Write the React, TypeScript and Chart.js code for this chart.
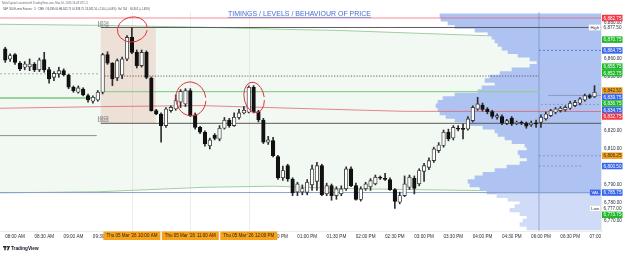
import React, { useEffect, useRef } from "react";
import { Chart, registerables } from "chart.js";

Chart.register(...registerables);

// ---------- DATA ----------
// 5-minute bars, bar index 0 = 07:45 AM (session gap 17:00-18:00 removed, index 111 = 06:00 PM)
const FIRST_BAR_INDEX = 1;

const opens = [
  6865.6, 6860.0, 6862.4, 6857.6, 6855.4, 6855.7, 6857.2, 6853.9, 6859.6, 6854.1,
  6849.8, 6851.7, 6853.5, 6851.1, 6844.3, 6841.5, 6843.3, 6839.6, 6836.5, 6837.2,
  6841.5, 6862.4, 6857.6, 6849.5, 6851.0, 6860.0, 6872.0, 6863.7, 6856.3, 6863.7,
  6849.4, 6831.3, 6829.4, 6823.0, 6831.3, 6832.2, 6836.0, 6835.0, 6842.4, 6828.9,
  6822.0, 6819.3, 6811.8, 6817.5, 6815.5, 6821.5, 6826.0, 6823.0, 6827.5, 6830.0,
  6830.4, 6844.3, 6830.7, 6826.1, 6813.7, 6814.6, 6805.7, 6794.0, 6800.7, 6793.3,
  6786.0, 6786.0, 6785.9, 6790.0, 6792.0, 6800.7, 6785.0, 6789.6, 6784.1, 6785.0,
  6787.8, 6798.9, 6789.6, 6781.9, 6787.8, 6789.0, 6790.6, 6794.3, 6793.7, 6793.0,
  6787.4, 6780.4, 6784.1, 6788.7, 6793.7, 6790.6, 6797.5, 6799.8, 6803.5, 6809.1,
  6811.9, 6819.3, 6816.1, 6821.5, 6821.5, 6821.1, 6825.7, 6832.2, 6834.4, 6832.2,
  6830.7, 6827.6, 6828.0, 6824.3, 6827.2, 6824.1, 6824.8, 6824.4, 6823.5, 6824.4,
  6824.8, 6826.7, 6828.5, 6830.4, 6831.3, 6831.7, 6832.6, 6834.1, 6835.4, 6837.2,
  6839.6, 6839.0,
];
const highs = [
  6866.5, 6862.8, 6863.0, 6858.5, 6858.5, 6860.0, 6858.0, 6860.5, 6863.7, 6855.4,
  6853.0, 6855.4, 6854.5, 6851.5, 6845.0, 6845.0, 6844.0, 6840.5, 6839.5, 6842.5,
  6863.1, 6864.0, 6858.0, 6860.0, 6861.0, 6873.0, 6877.5, 6865.0, 6865.0, 6864.5,
  6850.0, 6832.0, 6830.0, 6833.0, 6834.0, 6840.0, 6843.0, 6843.5, 6843.5, 6830.0,
  6822.5, 6820.0, 6816.0, 6818.5, 6823.0, 6827.5, 6827.0, 6830.0, 6832.0, 6833.5,
  6845.0, 6845.2, 6831.5, 6827.0, 6817.0, 6816.5, 6806.5, 6800.5, 6801.5, 6794.0,
  6791.5, 6790.0, 6793.0, 6801.0, 6802.5, 6801.5, 6791.0, 6790.5, 6789.0, 6789.5,
  6800.0, 6800.0, 6791.0, 6789.0, 6791.5, 6793.5, 6795.5, 6795.0, 6796.5, 6794.0,
  6788.0, 6786.0, 6795.0, 6795.5, 6795.0, 6799.0, 6802.0, 6805.0, 6811.0, 6813.5,
  6820.5, 6821.0, 6823.0, 6823.0, 6823.9, 6828.0, 6834.0, 6838.7, 6835.5, 6833.0,
  6831.5, 6829.5, 6829.0, 6826.5, 6828.0, 6825.5, 6825.5, 6825.0, 6825.5, 6826.0,
  6829.0, 6830.5, 6832.0, 6833.0, 6833.5, 6834.0, 6836.5, 6837.0, 6838.5, 6840.5,
  6840.5, 6845.2,
];
const lows = [
  6858.1, 6858.7, 6857.0, 6853.5, 6854.0, 6853.5, 6853.0, 6853.0, 6852.6, 6846.5,
  6848.0, 6849.8, 6850.5, 6843.5, 6841.5, 6841.0, 6839.5, 6836.0, 6835.5, 6836.5,
  6840.6, 6857.0, 6845.2, 6848.0, 6849.0, 6859.0, 6863.0, 6855.0, 6855.5, 6849.0,
  6831.0, 6829.0, 6813.7, 6822.0, 6830.5, 6831.5, 6833.0, 6833.5, 6828.0, 6821.0,
  6818.5, 6811.5, 6810.0, 6815.0, 6814.5, 6821.0, 6822.0, 6822.5, 6826.5, 6829.5,
  6830.0, 6830.0, 6825.0, 6813.0, 6812.5, 6805.5, 6793.0, 6792.5, 6792.0, 6784.0,
  6784.0, 6784.5, 6784.5, 6787.0, 6787.0, 6784.0, 6784.0, 6781.5, 6782.0, 6784.0,
  6787.0, 6789.0, 6781.5, 6781.0, 6787.0, 6787.0, 6790.0, 6793.0, 6792.5, 6787.0,
  6777.0, 6779.5, 6783.5, 6787.5, 6785.0, 6789.5, 6792.0, 6798.5, 6802.5, 6808.0,
  6811.0, 6814.5, 6815.0, 6820.0, 6815.6, 6820.5, 6825.0, 6831.5, 6831.0, 6829.5,
  6827.0, 6826.5, 6823.5, 6823.5, 6823.0, 6823.5, 6823.5, 6821.5, 6822.5, 6822.0,
  6822.0, 6826.0, 6828.0, 6829.5, 6830.5, 6831.0, 6832.0, 6833.5, 6834.5, 6836.5,
  6838.0, 6838.5,
];
const closes = [
  6859.4, 6861.9, 6858.1, 6854.4, 6857.2, 6857.2, 6853.9, 6859.4, 6853.9, 6848.9,
  6852.0, 6853.5, 6851.3, 6844.3, 6842.4, 6843.9, 6840.0, 6837.2, 6838.7, 6841.5,
  6862.4, 6857.6, 6848.9, 6859.1, 6860.0, 6872.0, 6863.7, 6856.3, 6863.7, 6849.8,
  6831.3, 6829.4, 6823.0, 6832.2, 6833.1, 6836.9, 6842.0, 6842.4, 6828.5, 6822.0,
  6819.3, 6812.8, 6815.0, 6815.9, 6821.5, 6826.0, 6823.0, 6827.6, 6830.0, 6831.5,
  6844.3, 6830.4, 6826.1, 6813.7, 6815.0, 6806.3, 6793.9, 6798.0, 6793.3, 6785.6,
  6790.6, 6788.0, 6791.5, 6798.9, 6800.7, 6784.6, 6789.6, 6784.1, 6787.8, 6787.8,
  6798.9, 6789.6, 6781.9, 6787.8, 6790.6, 6792.4, 6794.3, 6793.7, 6793.0, 6787.4,
  6780.9, 6784.1, 6790.6, 6794.3, 6788.1, 6798.0, 6800.7, 6803.5, 6810.0, 6812.2,
  6819.3, 6815.6, 6822.0, 6821.0, 6820.9, 6826.7, 6833.1, 6835.0, 6831.9, 6830.7,
  6828.1, 6828.5, 6824.3, 6825.7, 6823.9, 6824.8, 6824.3, 6822.6, 6824.3, 6823.9,
  6827.6, 6829.4, 6831.3, 6832.2, 6832.6, 6833.1, 6835.4, 6835.9, 6837.8, 6839.6,
  6838.7, 6841.5,
];

// visible ranges
const xMin = -0.08;
const xMax = 123.33;
const priceMin = 6764.4;
const priceMax = 6886.1;

// time axis
const timeTickIndex = [3, 9, 15, 21, 27, 39, 51, 57, 63, 69, 75, 81, 87, 93, 99, 105, 111, 117, 123];
const timeTickLabels = [
  "08:00 AM", "08:30 AM", "09:00 AM", "09:30 AM", "10:00 AM", "11:00 AM", "12:00 PM", "12:30 PM",
  "01:00 PM", "01:30 PM", "02:00 PM", "02:30 PM", "03:00 PM", "03:30 PM", "04:00 PM", "04:30 PM",
  "06:00 PM", "06:30 PM", "07:00 PM",
];
const markerIndex = [27, 39, 51];
const markerDate = ["Thu 05 Mar '26", "Thu 05 Mar '26", "Thu 05 Mar '26"];
const markerTime = ["10:00 AM", "11:00 AM", "12:00 PM"];
const sessionBreakIndex = 110.6;

// volume profile (row price, volume)
const profilePrices = [
  6884, 6882, 6880, 6878, 6876, 6874, 6872, 6870, 6868, 6866,
  6864, 6862, 6860, 6858, 6856, 6854, 6852, 6850, 6848, 6846,
  6844, 6842, 6840, 6838, 6836, 6834, 6832, 6830, 6828, 6826,
  6824, 6822, 6820, 6818, 6816, 6814, 6812, 6810, 6808, 6806,
  6804, 6802, 6800, 6798, 6796, 6794, 6792, 6790, 6788, 6786,
  6784, 6782, 6780, 6778, 6776, 6774, 6772, 6770, 6768, 6766,
];
const profileVolumes = [
  161, 160, 153, 146, 126, 113, 109, 106, 103, 99,
  93, 83, 71, 64, 71, 89, 101, 111, 116, 106,
  119, 123, 146, 158, 163, 165, 163, 161, 155, 146,
  134, 118, 106, 103, 96, 89, 76, 74, 83, 81,
  74, 81, 94, 106, 118, 126, 133, 131, 121, 114,
  104, 93, 81, 86, 91, 81, 74, 78, 81, 74,
];
const valueAreaLow = 6785.75;

// channel (green trend lines)
const channelIndex = [-0.08, 20, 42, 56, 70, 100, 123.33];
const channelUpper = [6879.3, 6878.7, 6877.6, 6876.6, 6875.8, 6872.9, 6871.3];
const channelLower = [6785.6, 6786.2, 6788.7, 6789.3, 6788.0, 6786.8, 6786.0];

// red average line
const avgLineIndex = [-0.08, 20.5, 41, 61.5, 83, 123.33];
const avgLinePrice = [6832.6, 6833.5, 6834.1, 6832.5, 6830.9, 6830.8];

// horizontal levels
const levelKeys = ["vah", "high", "prevMid", "orMid", "greenPrev", "green", "orLow", "prevLow", "val", "onHigh", "onA", "onB", "onC", "onD"];
const levelFrom = [-0.08, 20.6, -0.08, 20.8, -0.08, 20.6, 20.6, -0.08, -0.08, 110.6, 112.5, 111.0, 110.6, 110.6];
const levelTo = [123.33, 123.33, 20.4, 110.6, 20.4, 110.6, 123.33, 19.8, 123.33, 123.33, 123.33, 123.33, 123.33, 119.5];
const levelPrice = [6882.75, 6877.5, 6851.75, 6850.5, 6838.3, 6841.8, 6824.25, 6817.4, 6785.75, 6864.75, 6839.75, 6834.75, 6806.25, 6800.5];

// opening range box
const rangeBoxFrom = 20.6;
const rangeBoxTo = 31.9;
const rangeBoxHigh = 6877.5;
const rangeBoxLow = 6824.25;

// hand-drawn circles (bar index, price)
const circleIndex = [27.1, 39.1, 52.1];
const circlePrice = [6876.4, 6837.8, 6838.6];

// price scale labels
const priceLabelValues = [6882.75, 6877.5, 6870.75, 6864.75, 6855.75, 6852.75, 6842.5, 6839.75, 6836.75, 6834.75, 6832.75, 6806.25, 6800.5, 6785.75, 6777.0, 6773.75];
const priceLabelKinds = ["red", "high", "green", "blue", "green", "green", "orange", "blue", "green", "blue", "red", "orange", "blue", "val", "low", "green"];

const titleText = "TIMINGS / LEVELS / BEHAVIOUR OF PRICE";
const headerLine1 = "NeilsCapital created with TradingView.com, Mar 06, 2026 16:48 UTC-5";
const headerLine2 = "S&P 500 E-mini Futures · 5 · CME  O6,839.00 H6,842.75 L6,838.75 C6,841.50 +2.50 (+0.04%)  Vol 744  · 46,801 (+1.48%)";

// ---------- STYLES ----------
const FONT = '"Liberation Sans", Arial, sans-serif';
const levelStyles: Record<string, { color: string; width: number; dash: number[] }> = {
  vah: { color: "rgba(236,80,95,0.65)", width: 1, dash: [] },
  high: { color: "#5c5c5c", width: 1, dash: [] },
  prevMid: { color: "#9a9a9a", width: 0.8, dash: [2, 2] },
  orMid: { color: "#3a3a3a", width: 0.8, dash: [1.2, 1.6] },
  greenPrev: { color: "#3fae46", width: 1, dash: [] },
  green: { color: "#8fd18f", width: 1.3, dash: [] },
  orLow: { color: "#575757", width: 1, dash: [] },
  prevLow: { color: "#8c8c8c", width: 1, dash: [] },
  val: { color: "#86a2cc", width: 1, dash: [] },
  onHigh: { color: "#3d6bf0", width: 0.8, dash: [2, 2] },
  onA: { color: "#6d7e98", width: 0.6, dash: [] },
  onB: { color: "#6d7e98", width: 0.6, dash: [2, 2] },
  onC: { color: "#6d7e98", width: 0.6, dash: [2, 2] },
  onD: { color: "#6d7e98", width: 0.6, dash: [2, 2] },
};
const labelBg: Record<string, string> = {
  red: "#f23645", green: "#22b82c", blue: "#3867ec", orange: "#f5a01f", high: "#ffffff", val: "#3867ec", low: "#ffffff",
};
const labelFg: Record<string, string> = {
  red: "#ffffff", green: "#ffffff", blue: "#ffffff", orange: "#2a2a2a", high: "#2a2e39", val: "#ffffff", low: "#2a2e39",
};
const labelTag: Record<string, string> = { high: "High", val: "VAL", low: "Low" };
const circleRadii = [[15, 12.5], [15, 17], [10, 15.5]];

const fmt = (v: number) =>
  Number(v).toLocaleString("en-US", { minimumFractionDigits: 2, maximumFractionDigits: 2 });

function buildDatasets() {
  const ds: any[] = [];
  ds.push({
    type: "line",
    data: channelIndex.map((x, k) => ({ x, y: channelUpper[k] })),
    borderColor: "#9fcf9f",
    borderWidth: 1,
    pointRadius: 0,
    fill: "+1",
    backgroundColor: "rgba(76,175,80,0.07)",
    order: 20,
  });
  ds.push({
    type: "line",
    data: channelIndex.map((x, k) => ({ x, y: channelLower[k] })),
    borderColor: "#9fcf9f",
    borderWidth: 1,
    pointRadius: 0,
    fill: false,
    order: 19,
  });
  const profileIndex = ds.length;
  ds.push({
    type: "bar",
    indexAxis: "y",
    xAxisID: "xp",
    yAxisID: "y",
    data: profilePrices.map((p, k) => ({ x: profileVolumes[k], y: p })),
    backgroundColor: (c: any) => (profilePrices[c.dataIndex] >= valueAreaLow ? "#afc3f2" : "#cfdbf7"),
    borderWidth: 0,
    barThickness: 3.75,
    grouped: false,
    order: 15,
  });
  levelKeys.forEach((key, k) => {
    const st = levelStyles[key];
    ds.push({
      type: "line",
      data: [
        { x: levelFrom[k], y: levelPrice[k] },
        { x: levelTo[k], y: levelPrice[k] },
      ],
      borderColor: st.color,
      borderWidth: st.width,
      borderDash: st.dash,
      pointRadius: 0,
      fill: false,
      order: 10,
    });
  });
  ds.push({
    type: "line",
    data: avgLineIndex.map((x, k) => ({ x, y: avgLinePrice[k] })),
    borderColor: "rgba(226,92,100,0.75)",
    borderWidth: 1,
    pointRadius: 0,
    fill: false,
    order: 10,
  });
  ds.push({
    type: "bar",
    data: opens.map((_, k) => ({ x: FIRST_BAR_INDEX + k, y: [lows[k], highs[k]] })),
    backgroundColor: "#2e2e2e",
    borderWidth: 0,
    barThickness: 1,
    grouped: false,
    order: 2,
  });
  ds.push({
    type: "bar",
    data: opens.map((o, k) => ({ x: FIRST_BAR_INDEX + k, y: [o, closes[k]] })),
    backgroundColor: (c: any) => (closes[c.dataIndex] >= opens[c.dataIndex] ? "#ffffff" : "#111111"),
    borderColor: (c: any) => (closes[c.dataIndex] >= opens[c.dataIndex] ? "#3a3a3a" : "#111111"),
    borderWidth: 0.9,
    borderSkipped: false,
    barThickness: 3.6,
    minBarLength: 1,
    grouped: false,
    order: 1,
  });
  return { ds, profileIndex };
}

function makeOverlay(profileIndex: number) {
  return {
    id: "overlay",
    beforeDatasetsDraw(chart: any) {
      const { ctx, chartArea: ca, scales } = chart;
      const xs = scales.x, ys = scales.y;
      ctx.save();
      ctx.strokeStyle = "rgba(0,0,0,0.07)";
      ctx.lineWidth = 1;
      markerIndex.forEach((i) => {
        const px = Math.round(xs.getPixelForValue(i)) + 0.5;
        ctx.beginPath();
        ctx.moveTo(px, ca.top);
        ctx.lineTo(px, ca.bottom);
        ctx.stroke();
      });
      const l = xs.getPixelForValue(rangeBoxFrom);
      const r = xs.getPixelForValue(rangeBoxTo);
      const t = ys.getPixelForValue(rangeBoxHigh);
      const b = ys.getPixelForValue(rangeBoxLow);
      ctx.fillStyle = "rgba(236,150,140,0.26)";
      ctx.fillRect(l, t, r - l, b - t);
      ctx.restore();
    },
    afterDatasetDraw(chart: any, args: any) {
      if (args.index !== profileIndex) return;
      const { ctx, chartArea: ca, scales } = chart;
      const px = scales.x.getPixelForValue(sessionBreakIndex);
      ctx.save();
      ctx.strokeStyle = "rgba(80,110,170,0.45)";
      ctx.lineWidth = 1;
      ctx.beginPath();
      ctx.moveTo(px, ca.top);
      ctx.lineTo(px, ca.bottom);
      ctx.stroke();
      ctx.restore();
    },
    afterDatasetsDraw(chart: any) {
      const { ctx, scales } = chart;
      const xs = scales.x, ys = scales.y;
      ctx.save();
      ctx.strokeStyle = "#e2323d";
      ctx.lineWidth = 1;
      circleIndex.forEach((ci, k) => {
        const cx = xs.getPixelForValue(ci);
        const cy = ys.getPixelForValue(circlePrice[k]);
        const [rx, ry] = circleRadii[k];
        ctx.beginPath();
        ctx.ellipse(cx, cy, rx, ry, -0.2, 0.3, Math.PI * 2 + 0.1);
        ctx.stroke();
      });
      // range box tiny labels
      ctx.fillStyle = "#444";
      ctx.font = `2.8px ${FONT}`;
      ctx.textBaseline = "middle";
      ctx.textAlign = "left";
      const l = xs.getPixelForValue(rangeBoxFrom);
      ctx.fillText(fmt(rangeBoxHigh), l - 3, ys.getPixelForValue(rangeBoxHigh) - 4);
      ctx.fillText(fmt(rangeBoxHigh), l - 3, ys.getPixelForValue(rangeBoxHigh) - 1);
      ctx.fillText(fmt(rangeBoxLow), l - 3, ys.getPixelForValue(rangeBoxLow) - 5);
      ctx.fillText(fmt(rangeBoxLow), l - 3, ys.getPixelForValue(rangeBoxLow) - 2);
      ctx.restore();
    },
    afterDraw(chart: any) {
      const { ctx, chartArea: ca, scales, width } = chart;
      const xs = scales.x, ys = scales.y;
      ctx.save();
      // cover time label overflow under price scale
      ctx.fillStyle = "#ffffff";
      ctx.fillRect(ca.right + 0.5, ca.bottom + 1, width - ca.right, 22);
      // orange time markers
      ctx.font = `4.5px ${FONT}`;
      ctx.textBaseline = "middle";
      markerIndex.forEach((i, k) => {
        const cx = xs.getPixelForValue(i);
        const w = 57;
        ctx.fillStyle = "#f7a21d";
        ctx.fillRect(cx - w / 2, ca.bottom + 0.5, w, 8.5);
        ctx.fillStyle = "#2b2410";
        ctx.textAlign = "left";
        ctx.fillText(markerDate[k], cx - w / 2 + 3, ca.bottom + 5);
        ctx.textAlign = "right";
        ctx.fillText(markerTime[k], cx + w / 2 - 3, ca.bottom + 5);
      });
      // price labels with stacking
      const items = priceLabelValues
        .map((v, k) => ({ v, kind: priceLabelKinds[k] }))
        .sort((a, b) => b.v - a.v);
      const H = 6.5;
      let prev = -Infinity;
      ctx.font = `4.6px ${FONT}`;
      items.forEach((it) => {
        let yy = ys.getPixelForValue(it.v);
        if (yy < prev + H) yy = prev + H;
        prev = yy;
        const bx = ca.right + 1;
        ctx.fillStyle = labelBg[it.kind];
        ctx.fillRect(bx, yy - H / 2, 20.5, H);
        ctx.fillStyle = labelFg[it.kind];
        ctx.textAlign = "left";
        ctx.fillText(fmt(it.v), bx + 1.6, yy + 0.3);
        const tag = labelTag[it.kind];
        if (tag) {
          ctx.font = `4.2px ${FONT}`;
          const tw = ctx.measureText(tag).width + 3;
          ctx.fillStyle = it.kind === "val" ? labelBg.val : "#ffffff";
          ctx.fillRect(ca.right - tw - 0.5, yy - H / 2 + 0.3, tw, H - 0.6);
          if (it.kind !== "val") {
            ctx.strokeStyle = "#d0d3da";
            ctx.lineWidth = 0.5;
            ctx.strokeRect(ca.right - tw - 0.5, yy - H / 2 + 0.3, tw, H - 0.6);
          }
          ctx.fillStyle = it.kind === "val" ? "#ffffff" : "#2a2e39";
          ctx.textAlign = "center";
          ctx.fillText(tag, ca.right - tw / 2 - 0.5, yy + 0.3);
          ctx.font = `4.6px ${FONT}`;
        }
      });
      // title
      ctx.fillStyle = "#4270d6";
      ctx.font = `7px ${FONT}`;
      ctx.textAlign = "left";
      ctx.textBaseline = "alphabetic";
      ctx.fillText(titleText, 228, 16.3, 146);
      const tw = Math.min(146, ctx.measureText(titleText).width);
      ctx.strokeStyle = "#4270d6";
      ctx.lineWidth = 0.6;
      ctx.beginPath();
      ctx.moveTo(228, 17.4);
      ctx.lineTo(228 + tw, 17.4);
      ctx.stroke();
      // header
      ctx.fillStyle = "#6a6d78";
      ctx.font = `3px ${FONT}`;
      ctx.textBaseline = "middle";
      ctx.fillText(headerLine1, 2, 3.2, 86);
      ctx.fillStyle = "#4a4d58";
      ctx.fillText(headerLine2, 3, 9, 147);
      // TradingView logo
      const ly = 248.3;
      ctx.fillStyle = "#131722";
      ctx.fillRect(3, ly - 2.2, 3.6, 1.3);
      ctx.fillRect(4.4, ly - 2.2, 1.3, 4.2);
      ctx.beginPath();
      ctx.arc(7.6, ly - 1.5, 0.7, 0, Math.PI * 2);
      ctx.fill();
      ctx.beginPath();
      ctx.moveTo(8.6, ly - 2.2);
      ctx.lineTo(10, ly - 2.2);
      ctx.lineTo(8.3, ly + 2);
      ctx.lineTo(6.9, ly + 2);
      ctx.closePath();
      ctx.fill();
      ctx.font = `bold 4.7px ${FONT}`;
      ctx.textAlign = "left";
      ctx.fillText("TradingView", 11, ly + 0.2);
      ctx.restore();
    },
  };
}

export default function App() {
  const ref = useRef<HTMLCanvasElement>(null);
  useEffect(() => {
    if (!ref.current) return;
    const { ds, profileIndex } = buildDatasets();
    const chart = new Chart(ref.current, {
      type: "bar",
      data: { datasets: ds },
      options: {
        responsive: false,
        animation: false,
        events: [],
        layout: { padding: { top: 12, left: 0, right: 0, bottom: 0 } },
        plugins: {
          legend: { display: false },
          tooltip: { enabled: false },
          title: { display: false },
        },
        scales: {
          x: {
            type: "linear",
            position: "bottom",
            min: xMin,
            max: xMax,
            offset: false,
            grid: { display: false, drawTicks: false, offset: false },
            border: { display: true, color: "rgba(0,0,0,0.08)" },
            afterBuildTicks: (axis: any) => {
              axis.ticks = timeTickIndex.map((v) => ({ value: v }));
            },
            afterFit: (axis: any) => {
              axis.height = 24;
            },
            ticks: {
              autoSkip: false,
              maxRotation: 0,
              padding: 2.5,
              color: "#2a2e39",
              font: { size: 4.6, family: FONT },
              callback: (v: any) => {
                const k = timeTickIndex.indexOf(Number(v));
                return k >= 0 ? timeTickLabels[k] : "";
              },
            },
          },
          xp: {
            type: "linear",
            display: false,
            position: "bottom",
            min: 0,
            max: 601,
            reverse: true,
            offset: false,
            grid: { offset: false },
          },
          y: {
            type: "linear",
            position: "right",
            min: priceMin,
            max: priceMax,
            offset: false,
            beginAtZero: false,
            grid: { display: false, drawTicks: false, offset: false },
            border: { display: true, color: "rgba(0,0,0,0.08)" },
            afterFit: (axis: any) => {
              axis.width = 24;
            },
            ticks: {
              stepSize: 10,
              includeBounds: false,
              padding: 3,
              color: "#2a2e39",
              font: { size: 4.6, family: FONT },
              callback: (v: any) => fmt(Number(v)),
            },
          },
        },
      } as any,
      plugins: [makeOverlay(profileIndex)],
    } as any);
    return () => chart.destroy();
  }, []);
  return (
    <div style={{ position: "fixed", left: 0, top: 0, width: 625, height: 255, background: "#ffffff" }}>
      <canvas ref={ref} width={625} height={255} style={{ display: "block", width: 625, height: 255 }} />
    </div>
  );
}
